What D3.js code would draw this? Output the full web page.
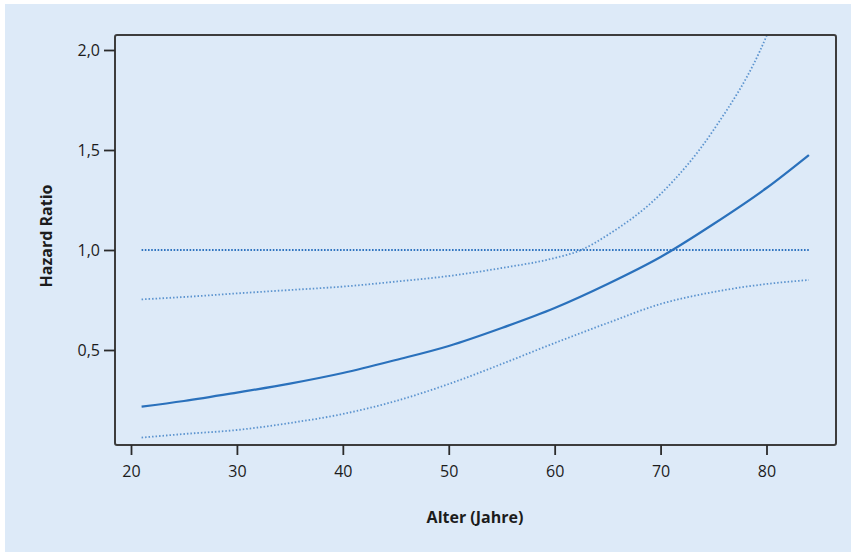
<!DOCTYPE html>
<html>
<head>
<meta charset="utf-8">
<script src="https://cdn.jsdelivr.net/npm/d3@7"></script>
<style>
  body { margin: 0; background: #fff; }
  text { font-family: "Open Sans", "Noto Sans", sans-serif; fill: #1c1c1c; }
</style>
</head>
<body>
<div id="chart-area"></div>
<script>
const ages = [21, 25, 30, 35, 40, 45, 50, 55, 60, 65, 70, 75, 80, 84];
const hazard = [0.217, 0.245, 0.287, 0.332, 0.385, 0.45, 0.52, 0.61, 0.71, 0.83, 0.965, 1.13, 1.31, 1.475];
const lower = [0.062, 0.08, 0.10, 0.135, 0.18, 0.245, 0.33, 0.43, 0.535, 0.635, 0.73, 0.79, 0.83, 0.85];
// upper bound leaves the plot at about 80
const upperAges = [21, 25, 30, 35, 40, 45, 50, 55, 60, 62.5, 65, 70, 75, 80, 82];
const upper = [0.753, 0.765, 0.783, 0.80, 0.817, 0.842, 0.87, 0.91, 0.96, 1.0, 1.075, 1.28, 1.6, 2.07, 2.35];
const refLine = 1.0;
const xTicks = [20, 30, 40, 50, 60, 70, 80];
const yTicks = [0.5, 1.0, 1.5, 2.0];

const W = 855, H = 556;
const frame = { left: 115, right: 836, top: 35, bottom: 445 };

const svg = d3.select("#chart-area")
  .append("svg")
  .attr("width", W)
  .attr("height", H);

// light blue panel
svg.append("rect")
  .attr("x", 5).attr("y", 4)
  .attr("width", 846).attr("height", 548)
  .attr("fill", "#ddeaf8");

const x = d3.scaleLinear().domain([20, 80]).range([131, 766.5]);
const y = d3.scaleLinear().domain([0, 2]).range([450, 50]);

svg.append("defs").append("clipPath")
  .attr("id", "plot-clip")
  .append("rect")
  .attr("x", frame.left).attr("y", frame.top)
  .attr("width", frame.right - frame.left)
  .attr("height", frame.bottom - frame.top);

const plot = svg.append("g").attr("clip-path", "url(#plot-clip)");

const line = d3.line()
  .x(d => x(d[0]))
  .y(d => y(d[1]))
  .curve(d3.curveMonotoneX);

// reference line at HR = 1
plot.append("line")
  .attr("x1", x(ages[0])).attr("x2", x(ages[ages.length - 1]))
  .attr("y1", y(refLine)).attr("y2", y(refLine))
  .attr("stroke", "#2f74c0")
  .attr("stroke-width", 1.8)
  .attr("stroke-dasharray", "1.6,1.6");

// confidence bounds
[d3.zip(upperAges, upper), d3.zip(ages, lower)].forEach(pts => {
  plot.append("path")
    .datum(pts)
    .attr("d", line)
    .attr("fill", "none")
    .attr("stroke", "#4585c8")
    .attr("stroke-opacity", 0.85)
    .attr("stroke-width", 1.8)
    .attr("stroke-dasharray", "1.5,2");
});

// hazard ratio estimate
plot.append("path")
  .datum(d3.zip(ages, hazard))
  .attr("d", line)
  .attr("fill", "none")
  .attr("stroke", "#2a71bc")
  .attr("stroke-width", 2.2);

// frame
svg.append("rect")
  .attr("x", frame.left).attr("y", frame.top)
  .attr("width", frame.right - frame.left)
  .attr("height", frame.bottom - frame.top)
  .attr("rx", 2)
  .attr("fill", "none")
  .attr("stroke", "#3d3d3d")
  .attr("stroke-width", 2);

// axes
const fmt = d => d3.format(".1f")(d).replace(".", ",");

const xAxis = svg.append("g")
  .attr("transform", `translate(0, ${frame.bottom})`)
  .call(d3.axisBottom(x).tickValues(xTicks).tickSize(10).tickPadding(11).tickFormat(d3.format("d")));

const yAxis = svg.append("g")
  .attr("transform", `translate(${frame.left}, 0)`)
  .call(d3.axisLeft(y).tickValues(yTicks).tickSize(11).tickPadding(4).tickFormat(fmt));

[xAxis, yAxis].forEach(a => {
  a.select(".domain").remove();
  a.selectAll(".tick line").attr("stroke", "#2b2b2b").attr("stroke-width", 1.8);
  a.selectAll(".tick text")
    .attr("font-size", "16px")
    .attr("fill", "#1c1c1c")
    .style("font-family", "'Open Sans', 'Noto Sans', sans-serif");
});

// axis titles
svg.append("text")
  .attr("x", 475)
  .attr("y", 523)
  .attr("text-anchor", "middle")
  .attr("font-size", "16px")
  .attr("font-weight", "bold")
  .text("Alter (Jahre)");

svg.append("text")
  .attr("transform", "rotate(-90)")
  .attr("x", -236)
  .attr("y", 52)
  .attr("text-anchor", "middle")
  .attr("font-size", "16px")
  .attr("font-weight", "bold")
  .text("Hazard Ratio");
</script>
</body>
</html>
